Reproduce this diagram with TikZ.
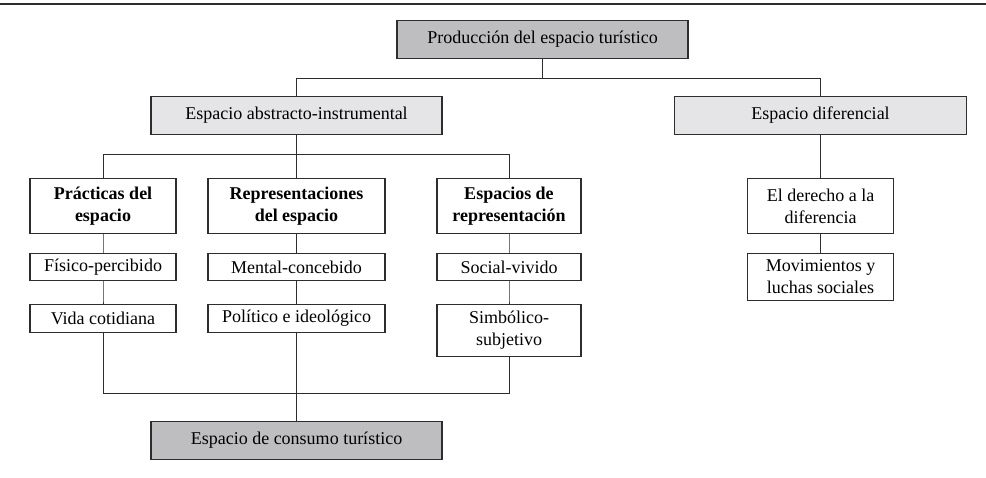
\documentclass[tikz,border=0pt]{standalone}
\usepackage{fontspec}
\setmainfont{Liberation Serif}
\definecolor{darkfill}{RGB}{190,190,192}
\definecolor{lightfill}{RGB}{229,229,231}
\definecolor{edgegray}{RGB}{45,45,45}

\begin{document}
\begin{tikzpicture}[x=1pt,y=1pt,
    every node/.style={anchor=north,draw=edgegray,line width=1.1pt,inner sep=0pt,align=center,
        font=\fontsize{18}{22}\selectfont},
    darkbox/.style={fill=darkfill,minimum width=291pt,minimum height=38pt},
    lightbox/.style={fill=lightfill,minimum width=291pt,minimum height=38pt},
    headbox/.style={font=\fontsize{18}{22}\selectfont\bfseries,minimum height=55pt},
    link/.style={draw=edgegray,line width=0.8pt},
    growth parent anchor=north,
    level 1/.style={level distance=76pt,sibling distance=524pt},
    level 2/.style={level distance=82pt,sibling distance=193.5pt},
    level 3/.style={level distance=75pt},
    level 4/.style={level distance=51pt},
    edge from parent/.style={link},
    edge from parent path={(\tikzparentnode.south) -- ++(0,-19.5) -| (\tikzchildnode.north)}]
    \useasboundingbox (0,0) rectangle (986,-477);
    \draw[edgegray,line width=1.4pt] (0,-4) -- (986,-4);
    \node [darkbox] (root) at (542.5,-20) {Producción del espacio turístico}
        child[xshift=16pt] {node [lightbox] (abs) {Espacio abstracto-instrumental}
            child {node [headbox,minimum width=146pt] (pract) {Prácticas del\\espacio}
                child {node [minimum width=146pt,minimum height=27pt] (fis) {Físico-percibido}
                    child {node [minimum width=146pt,minimum height=28pt] (vida) {Vida cotidiana}}
                }
            }
            child {node [headbox,minimum width=177pt] (repr) {Representaciones\\del espacio}
                child {node [minimum width=177pt,minimum height=27pt] (ment) {Mental-concebido}
                    child {node [minimum width=177pt,minimum height=28pt] (pol) {Político e ideológico}}
                }
            }
            child[xshift=19pt] {node [headbox,minimum width=144pt] (espr) {Espacios de\\representación}
                child {node [minimum width=144pt,minimum height=27pt] (soc) {Social-vivido}
                    child {node [minimum width=144pt,minimum height=52pt] (simb) {Simbólico-\\subjetivo}}
                }
            }
        }
        child[xshift=16pt] {node [lightbox,minimum width=292pt] (dif) {Espacio diferencial}
            child {node [minimum width=146pt,minimum height=55pt] (der) {El derecho a la\\diferencia}
                child {node [minimum width=146pt,minimum height=47pt] (mov) {Movimientos y\\luchas sociales}}
            }
        };
    % bottom box fed by the three columns
    \coordinate (join) at (0,-393);
    \coordinate (base) at (0,-421);
    \node [darkbox] (cons) at (abs.south |- base) {Espacio de consumo turístico};
    \draw [link] (vida.south) |- (join -| simb.south) -- (simb.south);
    \draw [link] (pol.south) -- (pol.south |- cons.north);
\end{tikzpicture}
\end{document}
